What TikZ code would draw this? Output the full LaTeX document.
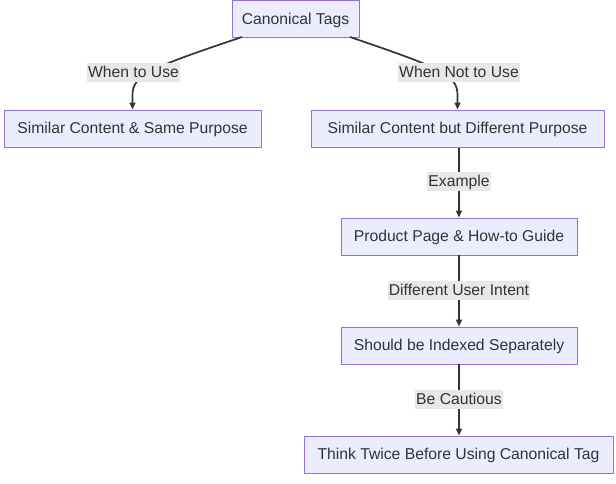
\documentclass[tikz,border=0pt]{standalone}
\usepackage{fontspec}
\setmainfont{Liberation Sans}
\usetikzlibrary{arrows.meta}
\definecolor{boxfill}{HTML}{ECECFF}
\definecolor{boxline}{HTML}{9370DB}
\definecolor{edgecol}{HTML}{333333}
\definecolor{lblbg}{HTML}{E8E8E8}
\begin{document}
\begin{tikzpicture}[x=1pt,y=-1pt,
  box/.style={draw=boxline, fill=boxfill, line width=1pt, minimum height=37pt, inner sep=0pt, text height=11pt, text depth=1pt, text=edgecol, font=\fontsize{15.7}{18}\selectfont},
  lbl/.style={fill=lblbg, inner xsep=1pt, inner ysep=1pt, text height=13pt, text depth=3.5pt, text=edgecol, font=\fontsize{15.7}{18}\selectfont},
  edge/.style={draw=edgecol, line width=1.7pt, -{Triangle[length=7pt,width=6pt]}}]
\useasboundingbox (0,0) rectangle (616,483);
\node[box, minimum width=127pt] (ct) at (295.5,19) {Canonical Tags};
\node[box, minimum width=257pt] (same) at (132.5,128.5) {Similar Content \& Same Purpose};
\node[box, minimum width=293pt] (diff) at (457.5,128.5) {Similar Content but Different Purpose};
\node[box, minimum width=236pt] (prod) at (459,236.5) {Product Page \& How-to Guide};
\node[box, minimum width=236pt] (idx) at (459,345.5) {Should be Indexed Separately};
\node[box, minimum width=309pt] (think) at (458.5,454.5) {Think Twice Before Using Canonical Tag};
\coordinate (ctl) at (242,37);
\coordinate (ctr) at (350,37);
\draw[edge] (ctl) .. controls (150,68) and (132.5,75) .. (132.5,95) -- (same.north);
\draw[edge] (ctr) .. controls (441,68) and (457.5,75) .. (457.5,95) -- (diff.north);
\draw[edge] (diff.south -| prod.north) -- (prod.north);
\draw[edge] (prod) ++(0,18.5) -- (idx.north);
\draw[edge] (idx) ++(0,18.5) -- (think.north -| idx.south);
\node[lbl] (l1) at (133.5,72.5) {When to Use};
\node[lbl] (l2) at (459,72.5) {When Not to Use};
\node[lbl] (l3) at (459,181.5) {Example};
\node[lbl] (l4) at (459,290.5) {Different User Intent};
\node[lbl] (l5) at (459,399.5) {Be Cautious};
\end{tikzpicture}
\end{document}
